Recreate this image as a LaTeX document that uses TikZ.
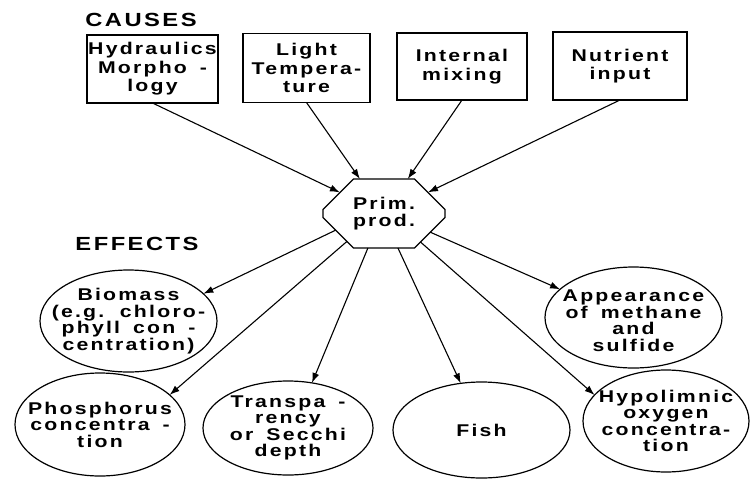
\documentclass[tikz,border=0pt]{standalone}
\usepackage{fontspec}
\newfontfamily\labfont{Liberation Sans}[FakeStretch=1.25,LetterSpace=13,WordSpace=1.6]
\usetikzlibrary{shapes.geometric,shapes.misc,arrows.meta}
\begin{document}
\begin{tikzpicture}[x=1pt,y=-1pt,
  every node/.style={align=center, inner sep=0pt, outer sep=0pt},
  headtext/.style={font=\labfont\bfseries\fontsize{19}{20}\selectfont},
  boxtext/.style={font=\labfont\bfseries\fontsize{17}{18.5}\selectfont},
  ovaltext/.style={font=\labfont\bfseries\fontsize{17}{16.5}\selectfont},
  causebox/.style={draw, line width=1.4pt, rectangle, boxtext},
  effect/.style={draw, line width=1.2pt, ellipse},
  hub/.style={draw, line width=1.2pt, chamfered rectangle,
    chamfered rectangle xsep=35pt, chamfered rectangle ysep=14pt,
    minimum width=122pt, minimum height=69pt,
    font=\labfont\bfseries\fontsize{17}{17}\selectfont},
  arr/.style={line width=1.1pt, -{Latex[length=10pt,width=7pt]}}]

\useasboundingbox[fill=white] (0,0) rectangle (750,480);

% headings
\node[headtext] (causes) at (141,20) {CAUSES};
\node[headtext] (effects) at (137,244) {EFFECTS};

% causes
\node[causebox, minimum width=131pt, minimum height=68pt] (hyd) at (152.5,69) {Hydraulics\\Morpho -\\logy};
\node[causebox, minimum width=127pt, minimum height=69pt] (light) at (306.5,68) {Light\\Tempera-\\ture};
\node[causebox, minimum width=130pt, minimum height=67pt] (mix) at (462,66.5) {Internal\\mixing};
\node[causebox, minimum width=134pt, minimum height=68pt] (nutr) at (620,66) {Nutrient\\input};

% primary production
\node[hub] (prim) at (384,213.5) {Prim.\\prod.};

% effects
\node[effect, minimum width=177pt, minimum height=102pt] (bio) at (128.5,321) {};
\node[effect, minimum width=177pt, minimum height=101pt] (meth) at (633.5,317.5) {};
\node[effect, minimum width=170pt, minimum height=103pt] (phos) at (100,424.5) {};
\node[effect, minimum width=170pt, minimum height=94pt] (secchi) at (288,428) {};
\node[effect, minimum width=177pt, minimum height=96pt] (fish) at (481.5,430) {};
\node[effect, minimum width=166pt, minimum height=102pt] (oxy) at (666,421) {};

\node[ovaltext] (bioT) at (bio.center) {Biomass\\(e.g. chloro-\\phyll con -\\centration)};
\node[ovaltext] (methT) at ([yshift=-3pt]meth.center) {Appearance\\of methane\\and\\sulfide};
\node[ovaltext] (phosT) at (phos.center) {Phosphorus\\concentra -\\tion};
\node[ovaltext] (secchiT) at (secchi.center) {Transpa -\\rency\\or Secchi\\depth};
\node[ovaltext] (fishT) at (fish.center) {Fish};
\node[ovaltext] (oxyT) at (oxy.center) {Hypolimnic\\oxygen\\concentra-\\tion};

% causes -> production
\draw[arr] (hyd.south) -- (prim);
\draw[arr] (light.south) -- (prim);
\draw[arr] (mix.south) -- (prim);
\draw[arr] (nutr.south) -- (prim);

% production -> effects
\draw[arr] (prim.199) -- (bio.20.6);
\draw[arr] (prim.217) -- (phos.23.6);
\draw[arr] (prim.245) -- (secchi.62);
\draw[arr] (prim.292) -- (fish.114);
\draw[arr] (prim.322) -- (oxy.160);
\draw[arr] (prim.338) -- (meth.159);
\end{tikzpicture}
\end{document}
